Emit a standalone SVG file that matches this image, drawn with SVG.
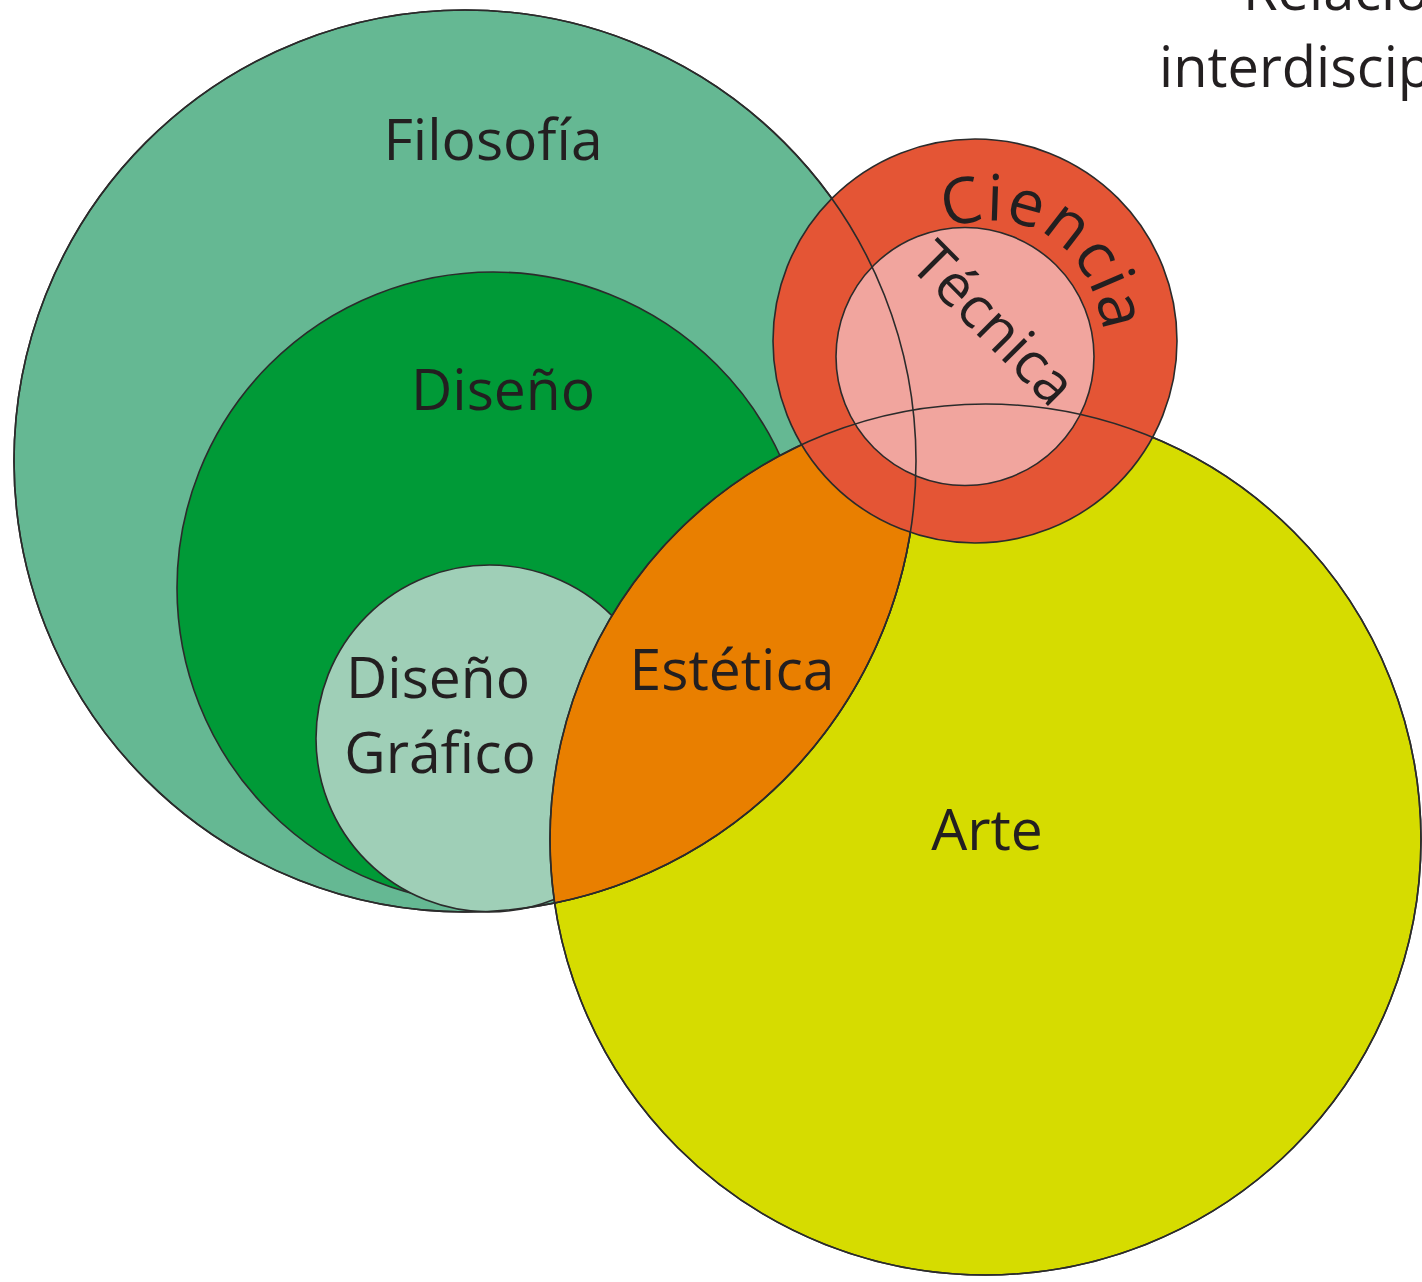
<svg xmlns="http://www.w3.org/2000/svg" width="1422" height="1282" viewBox="0 0 1422 1282">
<style>
.c{stroke:#2b2b2b;stroke-width:1.6}
.o{fill:none;stroke:#2b2b2b;stroke-width:1.6}
.t{font-family:"Open Sans","Noto Sans","Liberation Sans",sans-serif;font-size:57px;fill:#231f20}
.m{text-anchor:middle}
</style>
<defs>
<path id="pc" d="M 946 229 C 1012 204, 1096 232, 1106 350"/>
</defs>
<rect width="1422" height="1282" fill="#ffffff"/>
<g id="arte"><circle class="c" cx="985.5" cy="839.5" r="435.5" fill="#d6dc00"/></g>
<g id="filosofia"><circle class="c" cx="465" cy="461" r="451" fill="#65b893"/></g>
<g id="diseno"><circle class="c" cx="493" cy="588" r="316" fill="#009a37"/></g>
<g id="diseno-grafico"><circle class="c" cx="489.5" cy="738.5" r="173.5" fill="#9fcfb7"/></g>
<g id="estetica"><path class="c" d="M 913.1 410.1 A 451 451 0 0 1 554.7 903 A 435.5 435.5 0 0 1 913.1 410.1 Z" fill="#e97f00"/></g>
<g id="ciencia"><circle class="c" cx="975" cy="341" r="202" fill="#e45535"/></g>
<g id="tecnica"><circle class="c" cx="965" cy="356.5" r="129" fill="#f1a59e"/></g>
<g id="outlines">
<circle class="o" cx="465" cy="461" r="451"/>
<circle class="o" cx="985.5" cy="839.5" r="435.5"/>
</g>
<g id="labels">
<text class="t m" x="493" y="160">Filosofía</text>
<text class="t m" x="503" y="410">Diseño</text>
<text class="t m" x="438" y="698">Diseño</text>
<text class="t m" x="440" y="773">Gráfico</text>
<text class="t m" x="732" y="690">Estética</text>
<text class="t m" x="987" y="850">Arte</text>
<text class="t" style="font-size:64px;letter-spacing:1px"><textPath href="#pc">Ciencia</textPath></text>
<text class="t" transform="translate(908 266) rotate(45)" style="font-size:58px">Técnica</text>
<text class="t" x="1243" y="10" style="font-size:56px">Relación</text>
<text class="t" x="1159" y="87" style="font-size:56px">interdisciplinaria</text>
</g>
</svg>
